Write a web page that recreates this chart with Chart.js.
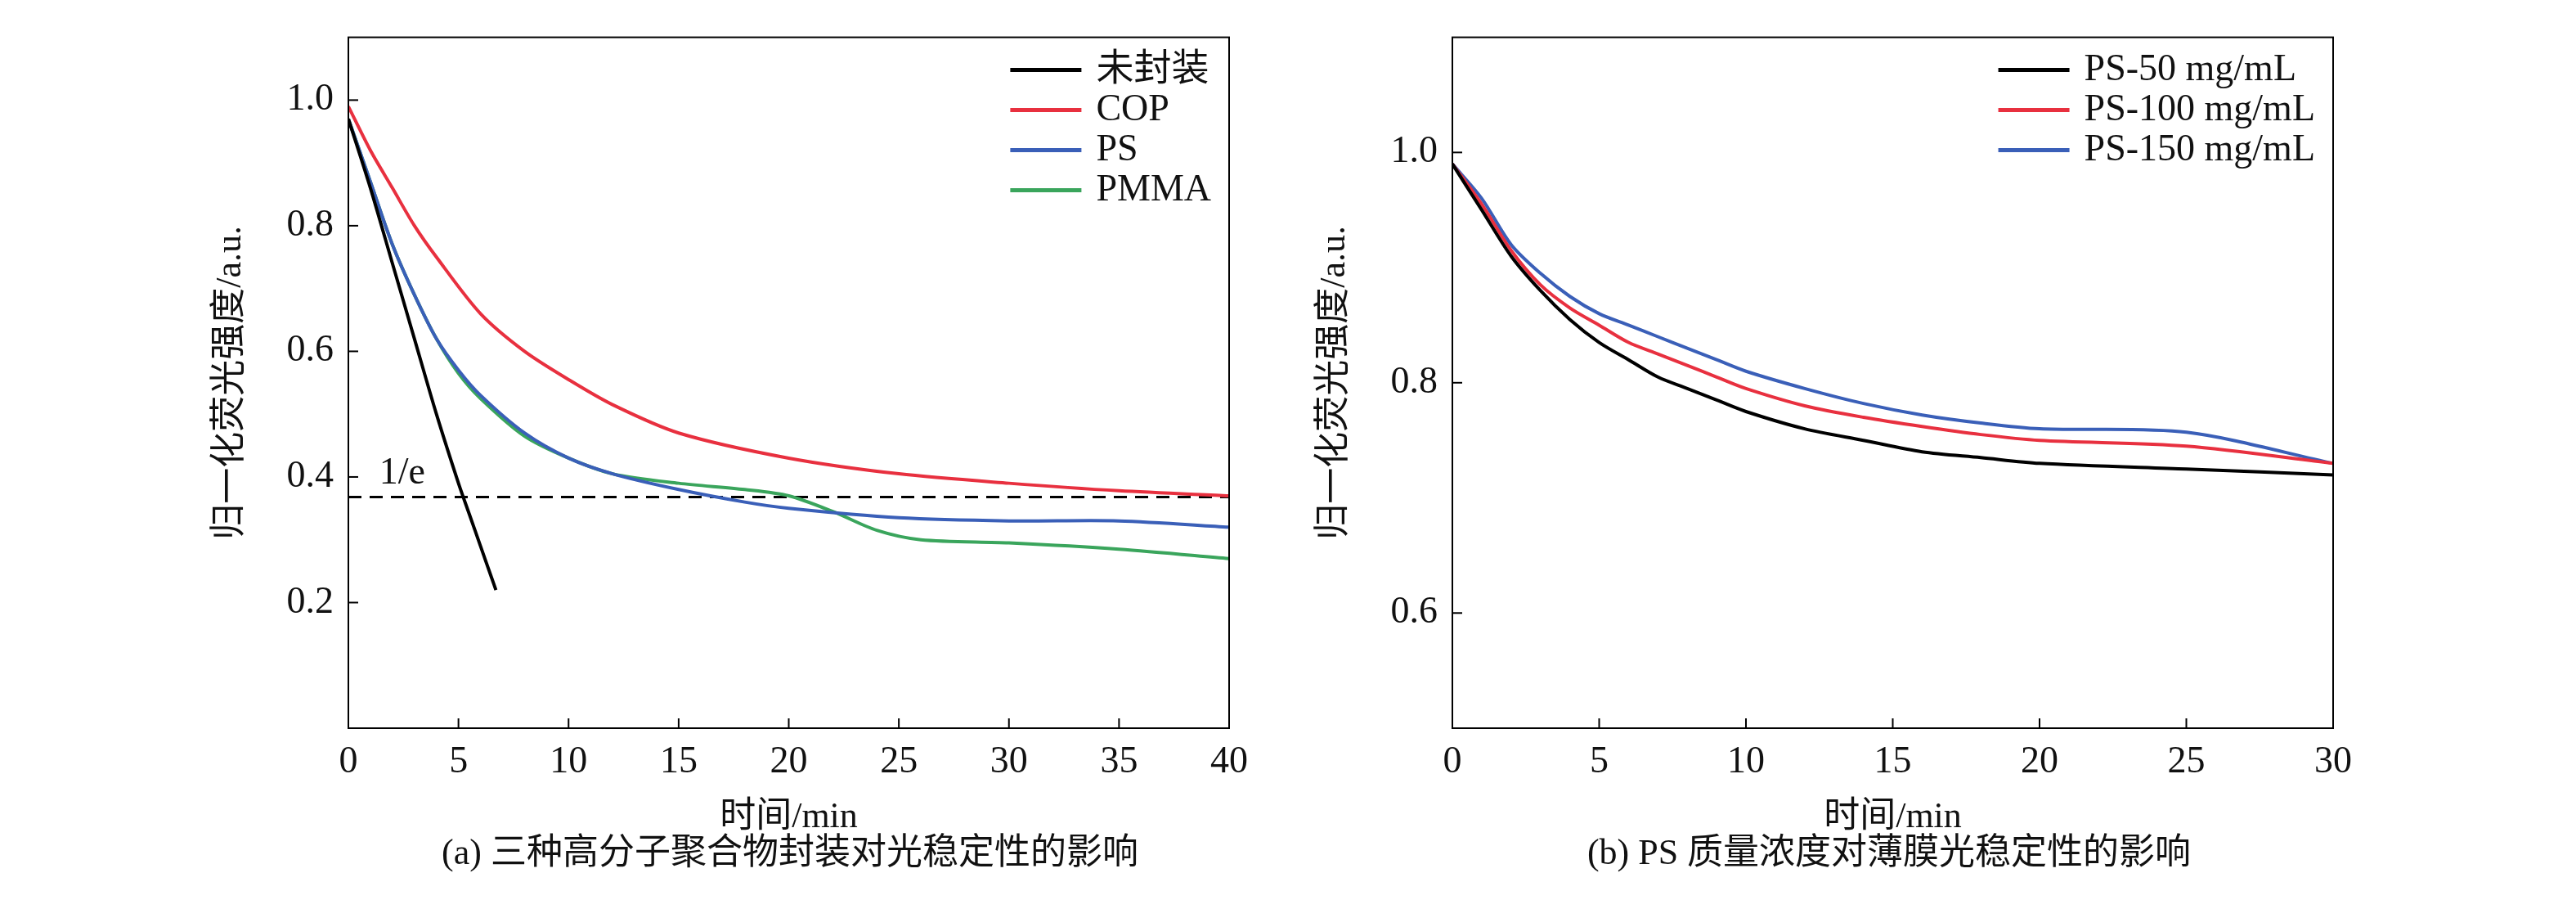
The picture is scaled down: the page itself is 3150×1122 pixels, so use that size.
<!DOCTYPE html>
<html><head><meta charset="utf-8">
<script src="https://cdn.jsdelivr.net/npm/chart.js@4/dist/chart.umd.min.js"></script>
<style>
body{margin:0;width:3150px;height:1122px;background:#fff;position:relative;overflow:hidden}
.c{position:absolute;top:0;width:1290px;height:1030px}
.cap{position:absolute;top:1005px;font:44px "Liberation Serif","Noto Sans CJK SC";color:#111;transform:translateX(-50%);white-space:nowrap}
</style></head><body>
<div class="c" style="left:250px"><canvas id="ca"></canvas></div>
<div class="c" style="left:1600px"><canvas id="cb"></canvas></div>
<div class="cap" style="left:966px">(a) 三种高分子聚合物封装对光稳定性的影响</div>
<div class="cap" style="left:2310px">(b) PS 质量浓度对薄膜光稳定性的影响</div>
<script>
// panel (a)
const unsealedT = [0, 1, 2, 3, 4, 5, 5.5, 6, 6.5, 6.7];
const unsealedV = [0.97, 0.86, 0.74, 0.62, 0.50, 0.39, 0.34, 0.29, 0.24, 0.22];
const copT = [0, 1, 2, 3, 4, 6, 8, 10, 12, 15, 20, 25, 30, 35, 40];
const copV = [0.99, 0.92, 0.86, 0.80, 0.75, 0.66, 0.60, 0.555, 0.515, 0.47, 0.43, 0.405, 0.39, 0.378, 0.37];
const psT = [0, 1, 2, 3, 4, 5, 6, 8, 10, 12, 15, 18, 20, 25, 30, 35, 40];
const psV = [0.97, 0.87, 0.77, 0.69, 0.62, 0.57, 0.53, 0.47, 0.43, 0.405, 0.38, 0.36, 0.35, 0.335, 0.33, 0.33, 0.32];
const pmmaT = [0, 1, 2, 3, 4, 5, 6, 8, 10, 12, 15, 18, 20, 22, 24, 26, 30, 35, 40];
const pmmaV = [0.97, 0.87, 0.77, 0.69, 0.62, 0.565, 0.525, 0.465, 0.43, 0.405, 0.39, 0.38, 0.37, 0.345, 0.315, 0.30, 0.295, 0.285, 0.27];
const invE = 0.368;
// panel (b)
const bT = [0, 1, 2, 3, 4, 5, 6, 7, 8, 9, 10, 12, 14, 16, 18, 20, 25, 30];
const ps50 = [0.99, 0.95, 0.91, 0.88, 0.855, 0.835, 0.82, 0.805, 0.795, 0.785, 0.775, 0.76, 0.75, 0.74, 0.735, 0.73, 0.725, 0.72];
const ps100 = [0.99, 0.955, 0.915, 0.885, 0.865, 0.85, 0.835, 0.825, 0.815, 0.805, 0.795, 0.78, 0.77, 0.762, 0.755, 0.75, 0.745, 0.73];
const ps150 = [0.99, 0.96, 0.92, 0.895, 0.875, 0.86, 0.85, 0.84, 0.83, 0.82, 0.81, 0.795, 0.782, 0.772, 0.765, 0.76, 0.757, 0.73];

const pts = (t, v) => t.map((x, i) => ({x: x, y: v[i]}));
const FONT = '"Liberation Serif","Noto Sans CJK SC"';

const frame = {
  id: 'frame',
  afterDraw(c) {
    const a = c.chartArea, g = c.ctx;
    g.save();
    g.strokeStyle = '#000'; g.lineWidth = 2;
    g.strokeRect(a.left, a.top, a.right - a.left, a.bottom - a.top);
    c.scales.x.ticks.forEach(t => {
      const p = c.scales.x.getPixelForValue(t.value);
      g.beginPath(); g.moveTo(p, a.bottom); g.lineTo(p, a.bottom - 12); g.stroke();
    });
    c.scales.y.ticks.forEach(t => {
      const p = c.scales.y.getPixelForValue(t.value);
      g.beginPath(); g.moveTo(a.left, p); g.lineTo(a.left + 12, p); g.stroke();
    });
    g.fillStyle = '#111'; g.font = '46px ' + FONT; g.textBaseline = 'middle';
    if (c.canvas.id === 'ca') {
      g.fillText('1/e', c.scales.x.getPixelForValue(1.4), c.scales.y.getPixelForValue(0.405));
    }
    // legend, top right inside the plot
    const items = c.data.datasets.filter(d => d.label !== '1/e');
    const w = Math.max(...items.map(d => g.measureText(d.label).width));
    const tx = a.right - 22 - w;
    items.forEach((d, i) => {
      const y = a.top + 40 + i * 49;
      g.strokeStyle = d.borderColor; g.lineWidth = 5;
      g.beginPath(); g.moveTo(tx - 105, y); g.lineTo(tx - 18, y); g.stroke();
      g.fillStyle = '#111'; g.fillText(d.label, tx, y);
    });
    g.restore();
  }
};

function line(label, data, color) {
  return {label: label, data: data, borderColor: color, backgroundColor: color, borderWidth: 4,
    pointRadius: 0, tension: 0.3};
}

function makeChart(id, datasets, xmax, ymin, yTicks) {
  return new Chart(document.getElementById(id), {
    type: 'line',
    data: {datasets: datasets},
    options: {
      responsive: true, maintainAspectRatio: false, animation: false,
      layout: {padding: {top: 16, right: 35}},
      plugins: {legend: {display: false}, tooltip: {enabled: false}},
      scales: {
        x: {
          type: 'linear', min: 0, max: xmax,
          grid: {drawOnChartArea: false, drawTicks: false},
          border: {display: false},
          ticks: {stepSize: 5, color: '#111', padding: 14, font: {size: 46, family: FONT}},
          title: {display: true, text: '时间/min', color: '#111', font: {size: 44, family: FONT}, padding: {top: 10}},
          afterFit: s => { s.height = 140; }
        },
        y: {
          min: ymin, max: 1.1,
          grid: {drawOnChartArea: false, drawTicks: false},
          border: {display: false},
          ticks: {color: '#111', padding: 18, font: {size: 46, family: FONT}, callback: v => v.toFixed(1)},
          afterBuildTicks: s => { s.ticks = yTicks.map(v => ({value: v})); },
          title: {display: true, text: '归一化荧光强度/a.u.', color: '#111', font: {size: 44, family: FONT}, padding: 6},
          afterFit: s => { s.width = 176; }
        }
      }
    },
    plugins: [frame]
  });
}

makeChart('ca', [
  line('未封装', pts(unsealedT, unsealedV), '#000000'),
  line('COP', pts(copT, copV), '#e8303f'),
  line('PS', pts(psT, psV), '#3a5fb8'),
  line('PMMA', pts(pmmaT, pmmaV), '#3aa55c'),
  {label: '1/e', data: [{x: 0, y: invE}, {x: 40, y: invE}], borderColor: '#000', borderWidth: 3,
    borderDash: [16, 10], pointRadius: 0}
], 40, 0, [0.2, 0.4, 0.6, 0.8, 1.0]);

makeChart('cb', [
  line('PS-50 mg/mL', pts(bT, ps50), '#000000'),
  line('PS-100 mg/mL', pts(bT, ps100), '#e8303f'),
  line('PS-150 mg/mL', pts(bT, ps150), '#3a5fb8')
], 30, 0.5, [0.6, 0.8, 1.0]);
</script>
</body></html>
